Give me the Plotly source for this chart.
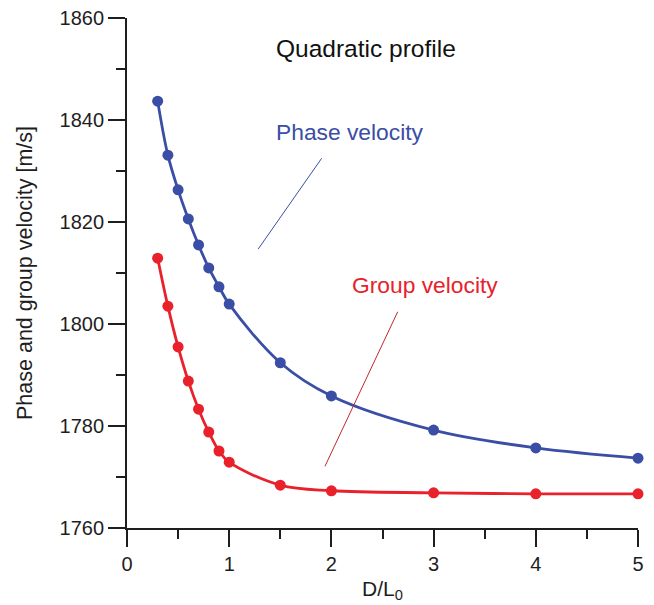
import plotly.graph_objects as go

x_vals = [0.3, 0.4, 0.5, 0.6, 0.7, 0.8, 0.9, 1.0, 1.5, 2, 3, 4, 5]
phase_velocity = [1843.7, 1833.1, 1826.3, 1820.6, 1815.5, 1811.0, 1807.3, 1803.9,
                  1792.4, 1785.9, 1779.2, 1775.7, 1773.7]
group_velocity = [1812.9, 1803.5, 1795.5, 1788.8, 1783.3, 1778.8, 1775.1, 1772.9,
                  1768.4, 1767.3, 1766.9, 1766.7, 1766.7]

blue = "#3a4ea5"
red = "#e8212b"
ink = "#1e1e1e"
font_family = "Liberation Sans, Arial, sans-serif"

fig = go.Figure()
fig.add_trace(go.Scatter(x=x_vals, y=phase_velocity, mode="lines+markers",
                         line=dict(color=blue, width=2.8, shape="spline", smoothing=1.0),
                         marker=dict(color=blue, size=11), cliponaxis=False,
                         name="Phase velocity"))
fig.add_trace(go.Scatter(x=x_vals, y=group_velocity, mode="lines+markers",
                         line=dict(color=red, width=2.8, shape="spline", smoothing=1.0),
                         marker=dict(color=red, size=11), cliponaxis=False,
                         name="Group velocity"))

fig.add_annotation(x=2.343, y=1854.1, text="Quadratic profile", showarrow=False,
                   font=dict(size=24.5, color="#111111", family=font_family))
fig.add_annotation(x=2.18, y=1837.6, text="Phase velocity", showarrow=False,
                   font=dict(size=22.8, color=blue, family=font_family))
fig.add_annotation(x=2.92, y=1807.6, text="Group velocity", showarrow=False,
                   font=dict(size=22.8, color=red, family=font_family))

fig.add_shape(type="line", x0=1.905, y0=1832.5, x1=1.284, y1=1814.7,
              line=dict(color=blue, width=1))
fig.add_shape(type="line", x0=2.649, y0=1802.4, x1=1.937, y1=1772.1,
              line=dict(color="#c0282e", width=1))

fig.update_layout(
    width=646, height=597,
    margin=dict(l=119, r=16, t=10, b=77, autoexpand=False),
    paper_bgcolor="white", plot_bgcolor="white",
    showlegend=False,
    font=dict(family=font_family, size=20, color=ink),
    xaxis=dict(range=[0, 5], tickvals=[0, 1, 2, 3, 4, 5], ticks="outside",
               ticklen=17, tickwidth=1.8, tickcolor=ink, automargin=False,
               showline=True, linecolor=ink, linewidth=1.8,
               showgrid=False, zeroline=False, ticklabeloverflow="allow",
               minor=dict(dtick=0.5, ticks="outside", ticklen=9, tickwidth=1.8,
                          tickcolor=ink, showgrid=False),
               title=dict(text="D/L<sub>0</sub>", font=dict(size=21), standoff=7)),
    yaxis=dict(range=[1760, 1860], tickvals=[1760, 1780, 1800, 1820, 1840, 1860],
               ticks="outside", ticklen=17, tickwidth=1.8, tickcolor=ink,
               automargin=False,
               showline=True, linecolor=ink, linewidth=1.8,
               showgrid=False, zeroline=False, ticklabeloverflow="allow",
               minor=dict(dtick=10, ticks="outside", ticklen=9, tickwidth=1.8,
                          tickcolor=ink, showgrid=False),
               title=dict(text="Phase and group velocity [m/s]", font=dict(size=21.5),
                          standoff=21)),
)

fig.write_html("out.html")
